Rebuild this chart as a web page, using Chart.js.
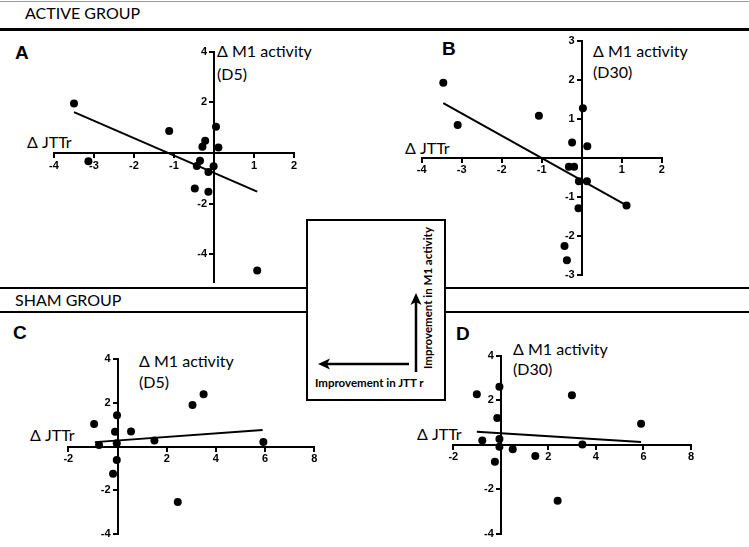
<!DOCTYPE html>
<html><head><meta charset="utf-8">
<script src="https://cdn.jsdelivr.net/npm/chart.js@4"></script>
<style>
body{margin:0;background:#fff;width:749px;height:547px;position:relative;overflow:hidden;font-family:Lato,sans-serif;}
.t{position:absolute;white-space:nowrap;line-height:1;color:#000;transform:translateY(-50%);}
.ttl{font-size:16px;}
.lab{font-family:"Liberation Sans",Arial,sans-serif;font-weight:bold;font-size:19px;color:#000;}
.ax{font-size:16px;}
.hl{position:absolute;background:#000;}
canvas{position:absolute;}
#box{position:absolute;left:306px;top:219px;width:140px;height:182px;border:2px solid #000;box-sizing:border-box;background:#fff;}
.bt{position:absolute;white-space:nowrap;line-height:1;font-weight:bold;font-size:11.5px;color:#000;}
</style></head><body>
<div class="hl" style="left:0;top:1px;width:749px;height:1px;background:#999"></div>
<div class="hl" style="left:0;top:28px;width:749px;height:3px"></div>
<div class="hl" style="left:0;top:287px;width:307px;height:2px"></div>
<div class="hl" style="left:446px;top:287px;width:303px;height:2px"></div>
<div class="hl" style="left:0;top:311px;width:307px;height:2px"></div>
<div class="hl" style="left:446px;top:311px;width:303px;height:2px"></div>
<div id="box"></div>
<svg style="position:absolute;left:0;top:0" width="749" height="547">
  <line x1="409" y1="364" x2="327" y2="364" stroke="#000" stroke-width="2.5"/>
  <polygon points="318,364 330,358.5 327,364 330,369.5" fill="#000"/>
  <line x1="416" y1="372" x2="416" y2="302" stroke="#000" stroke-width="2.5"/>
  <polygon points="416,293 421.5,305 416,302 410.5,305" fill="#000"/>
</svg>
<div class="bt" style="left:315px;top:377px">Improvement in JTT r</div>
<div class="bt" style="left:422px;top:369px;transform-origin:0 0;transform:rotate(-90deg)">Improvement in M1 activity</div>

<div class="t ttl" style="left:25px;top:13px">ACTIVE GROUP</div>
<div class="t ttl" style="left:15px;top:300px">SHAM GROUP</div>
<div class="t lab" style="left:15px;top:52px">A</div>
<div class="t lab" style="left:442px;top:48px">B</div>
<div class="t lab" style="left:13px;top:332px">C</div>
<div class="t lab" style="left:456px;top:333px">D</div>

<div class="t ax" style="left:217px;top:51px">Δ M1 activity</div>
<div class="t ax" style="left:217px;top:74px">(D5)</div>
<div class="t ax" style="left:27px;top:142px">Δ JTTr</div>

<div class="t ax" style="left:593px;top:51px">Δ M1 activity</div>
<div class="t ax" style="left:593px;top:72px">(D30)</div>
<div class="t ax" style="left:405px;top:148px">Δ JTTr</div>

<div class="t ax" style="left:139px;top:361px">Δ M1 activity</div>
<div class="t ax" style="left:139px;top:382px">(D5)</div>
<div class="t ax" style="left:30px;top:435px">Δ JTTr</div>

<div class="t ax" style="left:513px;top:349px">Δ M1 activity</div>
<div class="t ax" style="left:513px;top:369px">(D30)</div>
<div class="t ax" style="left:417px;top:434px">Δ JTTr</div>

<script>
// ---- data ----
const activeXTicks = [-4,-3,-2,-1,0,1,2];
const activeD5YTicks = [-4,-2,0,2,4];
const activeD30YTicks = [-3,-2,-1,0,1,2,3];
const shamXTicks = [-2,0,2,4,6,8];
const shamYTicks = [-4,-2,0,2,4];

const activeD5X = [-3.5,-3.14,-1.12,-0.22,-0.29,0.05,0.11,-0.35,-0.43,-0.01,-0.14,-0.48,-0.14,1.08];
const activeD5Y = [1.95,-0.33,0.87,0.48,0.24,1.03,0.21,-0.31,-0.52,-0.53,-0.75,-1.41,-1.53,-4.65];
const activeD5FitX = [-3.5,1.08];
const activeD5FitY = [1.61,-1.53];

const activeD30X = [-3.46,-3.1,-1.07,0.03,-0.24,0.14,-0.32,-0.19,-0.07,0.13,-0.08,1.12,-0.43,-0.37];
const activeD30Y = [1.92,0.84,1.08,1.27,0.39,0.3,-0.23,-0.23,-0.6,-0.6,-1.29,-1.22,-2.26,-2.62];
const activeD30FitX = [-3.46,1.12];
const activeD30FitY = [1.4,-1.22];

const shamD5X = [-0.95,-0.75,-0.02,-0.1,-0.03,0.55,1.5,3.05,3.5,5.93,-0.03,-0.18,2.45];
const shamD5Y = [1.03,0.07,1.43,0.68,0.15,0.69,0.27,1.9,2.39,0.21,-0.62,-1.24,-2.54];
const shamD5FitX = [-0.92,5.9];
const shamD5FitY = [0.2,0.75];

const shamD30X = [-1.01,-0.06,-0.15,-0.78,-0.06,-0.06,0.5,-0.25,1.45,2.99,3.43,5.9,2.39];
const shamD30Y = [2.27,2.61,1.2,0.19,0.26,-0.08,-0.2,-0.76,-0.5,2.22,0.02,0.95,-2.51];
const shamD30FitX = [-1.01,5.9];
const shamD30FitY = [0.59,0.13];

// ---- drawing ----
const tickFont = {family:"Liberation Sans", size:11, weight:"bold"};
// put y tick labels to the left of a crossing (value-positioned) axis
const yLabelShift = {
  id:'yLabelShift',
  afterUpdate(chart){
    const s = chart.scales.y;
    const d = s.options.grid.tickLength + s.options.ticks.padding + 1;
    s.getLabelItems().forEach(it => { it.options.translation[0] -= d; });
  }
};
function panel(box, xr, yr, xTicks, yTicks, xs, ys, fx, fy){
  const M = 30;
  const cl = Math.floor(box.l)-M, ct = Math.floor(box.t)-M;
  const cw = Math.ceil(box.r)+M-cl, ch = Math.ceil(box.b)+M-ct;
  const c = document.createElement('canvas');
  c.width = cw; c.height = ch;
  c.style.left = cl+'px'; c.style.top = ct+'px';
  c.style.width = cw+'px'; c.style.height = ch+'px';
  document.body.appendChild(c);
  const axisCommon = {
    type:'linear',
    grid:{drawOnChartArea:false, drawTicks:true, tickLength:4, color:'#000', lineWidth:2},
    border:{color:'#000', width:2},
    ticks:{color:'#000', font:tickFont, padding:2, autoSkip:false, maxRotation:0,
      callback:(v)=> v===0 ? '' : String(v)}
  };
  new Chart(c, {
    type:'scatter',
    data:{datasets:[
      {data: xs.map((x,i)=>({x:x, y:ys[i]})), pointRadius:4, pointBackgroundColor:'#000',
       pointBorderWidth:0, borderWidth:0, clip:false},
      {data: fx.map((x,i)=>({x:x, y:fy[i]})), showLine:true, borderColor:'#000', borderWidth:2,
       pointRadius:0, clip:false, fill:false}
    ]},
    options:{
      responsive:false, animation:false, devicePixelRatio:1,
      layout:{padding:{left:box.l-cl, top:box.t-ct, right:cl+cw-box.r, bottom:ct+ch-box.b}},
      plugins:{legend:{display:false}, tooltip:{enabled:false}},
      scales:{
        x: Object.assign({}, axisCommon, {min:xr[0], max:xr[1], position:{y:0},
          afterBuildTicks:(s)=>{ s.ticks = xTicks.map(v=>({value:v})); }}),
        y: Object.assign({}, axisCommon, {min:yr[0], max:yr[1], position:{x:0},
          afterBuildTicks:(s)=>{ s.ticks = yTicks.map(v=>({value:v})); }})
      }
    },
    plugins:[yLabelShift]
  });
}
panel({l:54,t:51.7,r:294,b:282}, [-4,2], [-5.1,4], activeXTicks, activeD5YTicks, activeD5X, activeD5Y, activeD5FitX, activeD5FitY);
panel({l:421.7,t:40.7,r:661.7,b:275}, [-4,2], [-3,3], activeXTicks, activeD30YTicks, activeD30X, activeD30Y, activeD30FitX, activeD30FitY);
panel({l:68.3,t:359,r:314.3,b:534}, [-2,8], [-4,4], shamXTicks, shamYTicks, shamD5X, shamD5Y, shamD5FitX, shamD5FitY);
panel({l:453.3,t:355.7,r:691,b:534}, [-2,8], [-4,4], shamXTicks, shamYTicks, shamD30X, shamD30Y, shamD30FitX, shamD30FitY);
</script>
</body></html>
